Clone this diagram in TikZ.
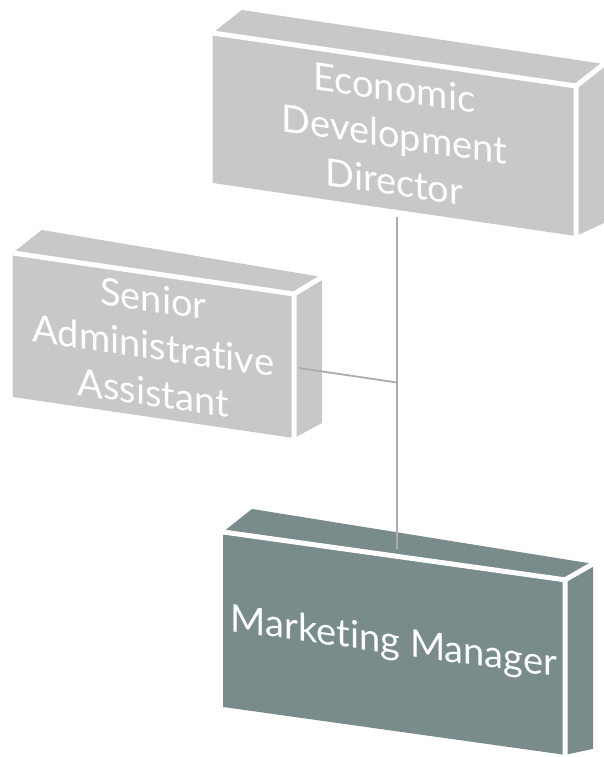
\documentclass[tikz,border=0pt]{standalone}
\usepackage{fontspec}
\setmainfont{Lato}[Ligatures=NoCommon]
\usetikzlibrary{calc}
\definecolor{boxgray}{RGB}{200,200,200}
\definecolor{boxteal}{RGB}{121,139,139}
\definecolor{linkgray}{RGB}{172,172,172}

\begin{document}
\begin{tikzpicture}[x=1pt, y=-1pt,
    face/.style={inner sep=0pt, outer sep=0pt, text=white, align=center,
        font=\fontsize{38}{47}\selectfont},
    seam/.style={white, line width=5pt},
    link/.style={linkgray, line width=1.8pt}]
    \useasboundingbox (0,0) rectangle (604,757);
    \foreach \nm/\cx/\cy/\w/\h/\s/\tr/\br/\col/\txt in {
        dir/394.35/134.5/363.3/150/0.146/-22/-13/boxgray/{Economic\\Development\\Director},
        asst/153.35/345.5/281.3/144/0.146/-17/-15/boxgray/{Senior\\Administrative\\Assistant},
        mgr/394/643.4/342/175/0.14/-16/-6/boxteal/{Marketing Manager}} {
        \node[face, fill=\col, minimum width=\w pt, minimum height=\h pt, yslant=-\s]
            (\nm) at (\cx,\cy) {\txt};
        \fill[\col] (\nm.north west) -- ++(29,-23) -- ($(\nm.north east)+(28,\tr)$)
            -- (\nm.north east) -- cycle;
        \fill[\col] (\nm.north east) -- ++(28,\tr) -- ($(\nm.south east)+(28,\br)$)
            -- (\nm.south east) -- cycle;
        \draw[seam] (\nm.north west) -- (\nm.north east) -- (\nm.south east)
            (\nm.north east) -- ++(28,\tr);
    }
    \coordinate (drop) at ([xshift=2.65pt]dir.south);
    \coordinate (join) at ($(drop)+(0,173)$);
    \draw[link, shorten <=7pt, shorten >=7pt] (drop) -- (drop |- mgr.north);
    \draw[link] ([xshift=5pt, yshift=-2pt]asst.east) -- (join);
\end{tikzpicture}
\end{document}
